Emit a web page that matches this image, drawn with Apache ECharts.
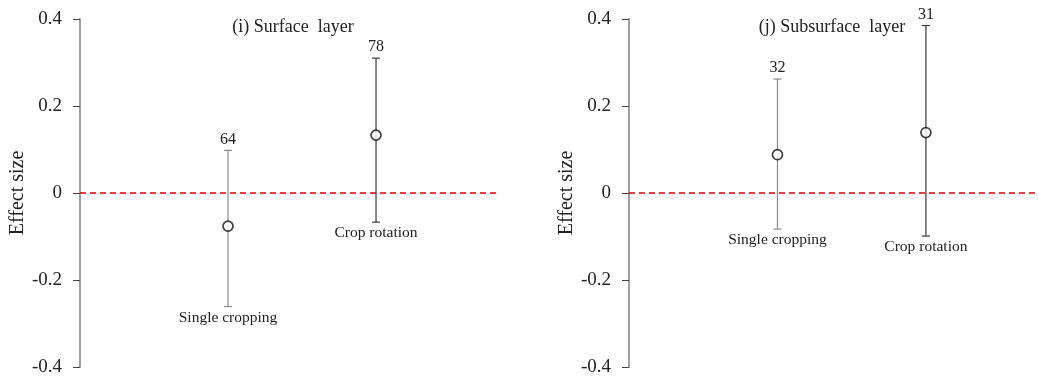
<!DOCTYPE html>
<html><head><meta charset="utf-8">
<script src="https://cdn.jsdelivr.net/npm/echarts@6/dist/echarts.min.js"></script>
<style>html,body{margin:0;padding:0;background:#fff}#c{width:1038px;height:377px}</style>
</head><body><div id="c"></div>
<script>
var categories = ['Single cropping', 'Crop rotation'];
var catX = [1, 2];
var surfaceMean = [-0.076, 0.133];
var surfaceLow = [-0.261, -0.067];
var surfaceHigh = [0.098, 0.310];
var surfaceN = [64, 78];
var subMean = [0.088, 0.139];
var subLow = [-0.083, -0.099];
var subHigh = [0.262, 0.385];
var subN = [32, 31];
var panelTitles = ['(i) Surface  layer', '(j) Subsurface  layer'];

var FONT = '"Liberation Serif", "Times New Roman", serif';
var barColors = ['#8a8a8a', '#3a3a3a'];

function errData(mean, low, high, n) {
  return categories.map(function (c, i) { return [catX[i], low[i], high[i], n[i], c, mean[i]]; });
}
function renderErr(params, api) {
  var x = api.value(0);
  var pLow = api.coord([x, api.value(1)]);
  var pHigh = api.coord([x, api.value(2)]);
  var col = barColors[params.dataIndex];
  var cap = 4;
  var st = { stroke: col, lineWidth: 1.2 };
  return {
    type: 'group',
    children: [
      { type: 'line', shape: { x1: pLow[0], y1: pLow[1], x2: pHigh[0], y2: pHigh[1] }, style: st },
      { type: 'line', shape: { x1: pLow[0] - cap, y1: pLow[1], x2: pLow[0] + cap, y2: pLow[1] }, style: st },
      { type: 'line', shape: { x1: pHigh[0] - cap, y1: pHigh[1], x2: pHigh[0] + cap, y2: pHigh[1] }, style: st },
      { type: 'text', style: { text: String(api.value(3)), x: pHigh[0], y: pHigh[1] - 3, textAlign: 'center', textVerticalAlign: 'bottom', font: '16px ' + FONT, fill: '#222' } },
      { type: 'text', style: { text: categories[params.dataIndex], x: pLow[0], y: pLow[1] + 3, textAlign: 'center', textVerticalAlign: 'top', font: '15.5px ' + FONT, fill: '#222' } }
    ]
  };
}

var grids = [
  { left: 80, top: 19, width: 418, height: 348 },
  { left: 629, top: 19, width: 409, height: 348 }
];
var xMax = [2.824, 2.755];
var nameGaps = [52, 51];

function yAxis(i) {
  return {
    type: 'value', gridIndex: i, min: -0.4, max: 0.4, interval: 0.2,
    name: 'Effect size', nameLocation: 'middle', nameGap: nameGaps[i],
    nameTextStyle: { fontFamily: FONT, fontSize: 20, color: '#222' },
    axisLine: { show: true, lineStyle: { color: '#a0a0a0', width: 2 } },
    axisTick: { show: true, length: 7, lineStyle: { color: '#444' } },
    axisLabel: { fontFamily: FONT, fontSize: 19, color: '#222', margin: 18 },
    splitLine: { show: false }
  };
}
function xAxis(i) {
  return { type: 'value', gridIndex: i, min: 0, max: xMax[i], show: false };
}

var sets = [[surfaceMean, surfaceLow, surfaceHigh, surfaceN], [subMean, subLow, subHigh, subN]];
var series = [];
sets.forEach(function (s, i) {
  series.push({
    type: 'line', xAxisIndex: i, yAxisIndex: i, data: [[0, 0], [xMax[i], 0]],
    symbol: 'none', silent: true, z: 1,
    lineStyle: { color: '#e00000', width: 1.5, type: [6, 4] }
  });
  series.push({
    type: 'custom', xAxisIndex: i, yAxisIndex: i, renderItem: renderErr,
    data: errData(s[0], s[1], s[2], s[3]), z: 2, encode: { x: 0, y: [1, 2] }
  });
  series.push({
    type: 'scatter', xAxisIndex: i, yAxisIndex: i, z: 3,
    data: catX.map(function (x, k) { return [x, s[0][k]]; }),
    symbol: 'circle', symbolSize: 10,
    itemStyle: { color: '#fff', borderColor: '#111', borderWidth: 1.7 }
  });
});

var chart = echarts.init(document.getElementById('c'), null, { renderer: 'canvas' });
chart.setOption({
  animation: false,
  title: [
    { text: panelTitles[0], left: 288, top: 13, textAlign: 'center', textStyle: { fontFamily: FONT, fontSize: 18, fontWeight: 'normal', color: '#222' } },
    { text: panelTitles[1], left: 827, top: 13, textAlign: 'center', textStyle: { fontFamily: FONT, fontSize: 18, fontWeight: 'normal', color: '#222' } }
  ],
  grid: grids,
  xAxis: [xAxis(0), xAxis(1)],
  yAxis: [yAxis(0), yAxis(1)],
  series: series
});
</script></body></html>
